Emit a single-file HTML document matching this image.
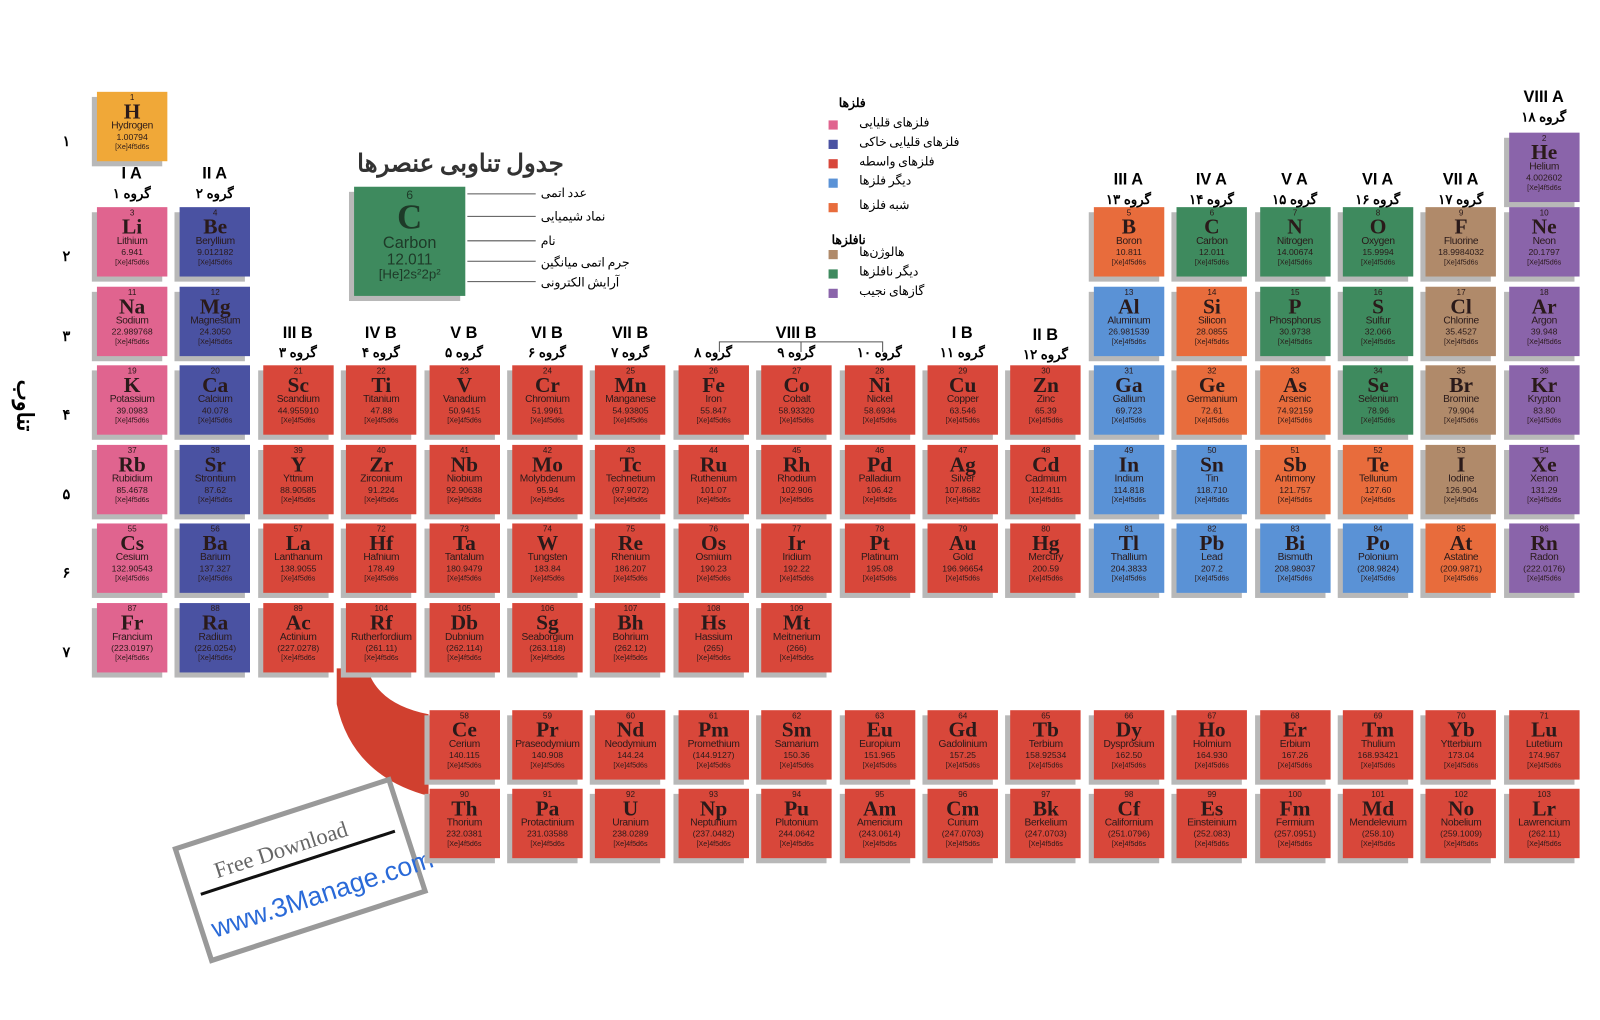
<!DOCTYPE html>
<html><head><meta charset="utf-8"><style>
body{margin:0;width:1600px;height:1000px;background:#fff;position:relative;overflow:hidden;font-family:"Liberation Sans","Noto Sans CJK SC",sans-serif}
#wrap{position:absolute;left:0;top:0;width:1600px;height:1000px;transform:scale(1.0204);transform-origin:0 0}
.c{position:absolute;width:69px;height:68px;box-shadow:-5px 5px 0 #b8b8b8;text-align:center;color:#2a1a1a;line-height:1}
.c .n{font-size:8px;margin-top:2px}
.c .s{font-family:"Liberation Serif",serif;font-weight:bold;font-size:21px;margin-top:-1px}
.c .m{font-size:10px;margin-top:-1px;letter-spacing:-0.3px;white-space:nowrap;overflow:hidden}
.c .w{font-size:8.5px;margin-top:1px}
.c .e{font-size:7px;margin-top:2px}
.g{position:absolute;font-weight:bold;font-size:16px;text-align:center;width:80px}
.p{position:absolute;font-size:13px;font-weight:bold;text-align:center;width:80px;font-family:"Liberation Sans","Noto Sans CJK SC",sans-serif}
.t{position:absolute;font-size:12px;font-family:"Noto Sans CJK SC",sans-serif;direction:rtl}
</style></head><body><div id="wrap">
<svg style="position:absolute;left:0;top:0" width="1600" height="1000">
<path d="M330 655 L330 690 Q345 760 420 780 L420 700 Q370 690 360 655 Z" fill="#d0402f"/>
<g transform="rotate(-18 295 855)">
<rect x="185" y="795" width="220" height="115" fill="#fff" stroke="#999" stroke-width="5"/>
<line x1="195" y1="845" x2="395" y2="845" stroke="#111" stroke-width="3"/>
<text x="215" y="835" font-family="Liberation Serif" font-size="22" fill="#666">Free Download</text>
<text x="195" y="890" font-family="Liberation Sans" font-size="26" fill="#2a6ad8">www.3Manage.com</text>
</g>
<line x1="458" y1="190" x2="525" y2="190" stroke="#555"/>
<line x1="458" y1="212" x2="525" y2="212" stroke="#555"/>
<line x1="458" y1="236" x2="525" y2="236" stroke="#555"/>
<line x1="458" y1="256" x2="525" y2="256" stroke="#555"/>
<line x1="458" y1="276" x2="525" y2="276" stroke="#555"/>
<path d="M705 345 V335 H865 V345 M785 335 V345" stroke="#555" fill="none"/>
</svg>
<div style="position:absolute;left:350px;top:140px;font-size:24px;font-weight:bold;font-family:'Noto Sans CJK SC',sans-serif;color:#333">جدول تناوبی عنصرها</div>
<div class="c" style="left:347px;top:183px;width:109px;height:107px;background:#3e8a5e;color:#1e3a28">
<div style="font-size:12px;margin-top:2px">6</div><div style="font-family:'Liberation Serif';font-weight:bold;font-size:34px">C</div><div style="font-size:16px">Carbon</div><div style="font-size:15px">12.011</div><div style="font-size:13px">[He]2s²2p²</div></div>
<div class="t" style="left:530px;top:180px">عدد اتمی</div>
<div class="t" style="left:530px;top:203px">نماد شیمیایی</div>
<div class="t" style="left:530px;top:227px">نام</div>
<div class="t" style="left:530px;top:248px">جرم اتمی میانگین</div>
<div class="t" style="left:530px;top:268px">آرایش الکترونی</div>
<div id="leg"></div>
<div style="position:absolute;top:372px;font-size:22px;font-weight:bold;transform:rotate(90deg);transform-origin:left top;left:42px;font-family:'Noto Sans CJK SC',sans-serif">تناوب</div>
<div id="root"></div>
</div>
<script>
const C={a:'#e0648f',e:'#4a52a2',t:'#d8473a',o:'#5a92d6',m:'#e86c3c',h:'#b08a6a',n:'#3e8a5e',g:'#8a64aa',H:'#f0a838'};
const D=[
[1,1,1,'H','Hydrogen','1.00794','H'],[2,18,0,'He','Helium','4.002602','g'],
[3,1,2,'Li','Lithium','6.941','a'],[4,2,2,'Be','Beryllium','9.012182','e'],[5,13,2,'B','Boron','10.811','m'],[6,14,2,'C','Carbon','12.011','n'],[7,15,2,'N','Nitrogen','14.00674','n'],[8,16,2,'O','Oxygen','15.9994','n'],[9,17,2,'F','Fluorine','18.9984032','h'],[10,18,2,'Ne','Neon','20.1797','g'],
[11,1,3,'Na','Sodium','22.989768','a'],[12,2,3,'Mg','Magnesium','24.3050','e'],[13,13,3,'Al','Aluminum','26.981539','o'],[14,14,3,'Si','Silicon','28.0855','m'],[15,15,3,'P','Phosphorus','30.9738','n'],[16,16,3,'S','Sulfur','32.066','n'],[17,17,3,'Cl','Chlorine','35.4527','h'],[18,18,3,'Ar','Argon','39.948','g'],
[19,1,4,'K','Potassium','39.0983','a'],[20,2,4,'Ca','Calcium','40.078','e'],[21,3,4,'Sc','Scandium','44.955910','t'],[22,4,4,'Ti','Titanium','47.88','t'],[23,5,4,'V','Vanadium','50.9415','t'],[24,6,4,'Cr','Chromium','51.9961','t'],[25,7,4,'Mn','Manganese','54.93805','t'],[26,8,4,'Fe','Iron','55.847','t'],[27,9,4,'Co','Cobalt','58.93320','t'],[28,10,4,'Ni','Nickel','58.6934','t'],[29,11,4,'Cu','Copper','63.546','t'],[30,12,4,'Zn','Zinc','65.39','t'],[31,13,4,'Ga','Gallium','69.723','o'],[32,14,4,'Ge','Germanium','72.61','m'],[33,15,4,'As','Arsenic','74.92159','m'],[34,16,4,'Se','Selenium','78.96','n'],[35,17,4,'Br','Bromine','79.904','h'],[36,18,4,'Kr','Krypton','83.80','g'],
[37,1,5,'Rb','Rubidium','85.4678','a'],[38,2,5,'Sr','Strontium','87.62','e'],[39,3,5,'Y','Yttrium','88.90585','t'],[40,4,5,'Zr','Zirconium','91.224','t'],[41,5,5,'Nb','Niobium','92.90638','t'],[42,6,5,'Mo','Molybdenum','95.94','t'],[43,7,5,'Tc','Technetium','(97.9072)','t'],[44,8,5,'Ru','Ruthenium','101.07','t'],[45,9,5,'Rh','Rhodium','102.906','t'],[46,10,5,'Pd','Palladium','106.42','t'],[47,11,5,'Ag','Silver','107.8682','t'],[48,12,5,'Cd','Cadmium','112.411','t'],[49,13,5,'In','Indium','114.818','o'],[50,14,5,'Sn','Tin','118.710','o'],[51,15,5,'Sb','Antimony','121.757','m'],[52,16,5,'Te','Tellurium','127.60','m'],[53,17,5,'I','Iodine','126.904','h'],[54,18,5,'Xe','Xenon','131.29','g'],
[55,1,6,'Cs','Cesium','132.90543','a'],[56,2,6,'Ba','Barium','137.327','e'],[57,3,6,'La','Lanthanum','138.9055','t'],[72,4,6,'Hf','Hafnium','178.49','t'],[73,5,6,'Ta','Tantalum','180.9479','t'],[74,6,6,'W','Tungsten','183.84','t'],[75,7,6,'Re','Rhenium','186.207','t'],[76,8,6,'Os','Osmium','190.23','t'],[77,9,6,'Ir','Iridium','192.22','t'],[78,10,6,'Pt','Platinum','195.08','t'],[79,11,6,'Au','Gold','196.96654','t'],[80,12,6,'Hg','Mercury','200.59','t'],[81,13,6,'Tl','Thallium','204.3833','o'],[82,14,6,'Pb','Lead','207.2','o'],[83,15,6,'Bi','Bismuth','208.98037','o'],[84,16,6,'Po','Polonium','(208.9824)','o'],[85,17,6,'At','Astatine','(209.9871)','m'],[86,18,6,'Rn','Radon','(222.0176)','g'],
[87,1,7,'Fr','Francium','(223.0197)','a'],[88,2,7,'Ra','Radium','(226.0254)','e'],[89,3,7,'Ac','Actinium','(227.0278)','t'],[104,4,7,'Rf','Rutherfordium','(261.11)','t'],[105,5,7,'Db','Dubnium','(262.114)','t'],[106,6,7,'Sg','Seaborgium','(263.118)','t'],[107,7,7,'Bh','Bohrium','(262.12)','t'],[108,8,7,'Hs','Hassium','(265)','t'],[109,9,7,'Mt','Meitnerium','(266)','t']];
const L=[['Ce','Cerium','140.115'],['Pr','Praseodymium','140.908'],['Nd','Neodymium','144.24'],['Pm','Promethium','(144.9127)'],['Sm','Samarium','150.36'],['Eu','Europium','151.965'],['Gd','Gadolinium','157.25'],['Tb','Terbium','158.92534'],['Dy','Dysprosium','162.50'],['Ho','Holmium','164.930'],['Er','Erbium','167.26'],['Tm','Thulium','168.93421'],['Yb','Ytterbium','173.04'],['Lu','Lutetium','174.967']];
const A=[['Th','Thorium','232.0381'],['Pa','Protactinium','231.03588'],['U','Uranium','238.0289'],['Np','Neptunium','(237.0482)'],['Pu','Plutonium','244.0642'],['Am','Americium','(243.0614)'],['Cm','Curium','(247.0703)'],['Bk','Berkelium','(247.0703)'],['Cf','Californium','(251.0796)'],['Es','Einsteinium','(252.083)'],['Fm','Fermium','(257.0951)'],['Md','Mendelevium','(258.10)'],['No','Nobelium','(259.1009)'],['Lr','Lawrencium','(262.11)']];
const RY=[130,90,203,281,358,436,513,591];
const X=c=>95+(c-1)*81.4;
let h='';
function cell(x,y,n,s,nm,w,col){h+=`<div class="c" style="left:${x}px;top:${y}px;background:${C[col]}"><div class="n">${n}</div><div class="s">${s}</div><div class="m">${nm}</div><div class="w">${w}</div><div class="e">[Xe]4f5d6s</div></div>`;}
D.forEach(d=>cell(X(d[1]),RY[d[2]],d[0],d[3],d[4],d[5],d[6]));
L.forEach((d,i)=>cell(X(5+i),696,58+i,d[0],d[1],d[2],'t'));
A.forEach((d,i)=>cell(X(5+i),773,90+i,d[0],d[1],d[2],'t'));
const fa=n=>String(n).replace(/\d/g,d=>'۰۱۲۳۴۵۶۷۸۹'[d]);
for(let r=1;r<=7;r++)h+=`<div class="p" style="left:25px;top:${RY[r]+40}px;font-size:14px">${fa(r)}</div>`;
const G=[[1,'I A',162],[2,'II A',162],[3,'III B',318],[4,'IV B',318],[5,'V B',318],[6,'VI B',318],[7,'VII B',318],[8,'',318],[9,'VIII B',318],[10,'',318],[11,'I B',318],[12,'II B',320],[13,'III A',168],[14,'IV A',168],[15,'V A',168],[16,'VI A',168],[17,'VII A',168],[18,'VIII A',87]];
G.forEach(g=>{const x=X(g[0])-6;h+=`<div class="g" style="left:${x}px;top:${g[2]}px">${g[1]}</div><div class="p" style="left:${x}px;top:${g[2]+20}px">گروه ${fa(g[0])}</div>`});
document.getElementById('root').innerHTML=h;
let lg='<div class="t" style="left:822px;top:92px;font-weight:bold">فلزها</div><div class="t" style="left:815px;top:226px;font-weight:bold">نافلزها</div>';
[['a',115,'فلزهای قلیایی'],['e',134,'فلزهای قلیایی خاکی'],['t',153,'فلزهای واسطه'],['o',172,'دیگر فلزها'],['m',196,'شبه فلزها'],['h',242,'هالوژن‌ها'],['n',261,'دیگر نافلزها'],['g',280,'گازهای نجیب']].forEach(l=>{lg+=`<div style="position:absolute;left:812px;top:${l[1]+3}px;width:9px;height:9px;background:${C[l[0]]}"></div><div class="t" style="left:842px;top:${l[1]-4}px">${l[2]}</div>`});
document.getElementById('leg').innerHTML=lg;
</script>
</body></html>
